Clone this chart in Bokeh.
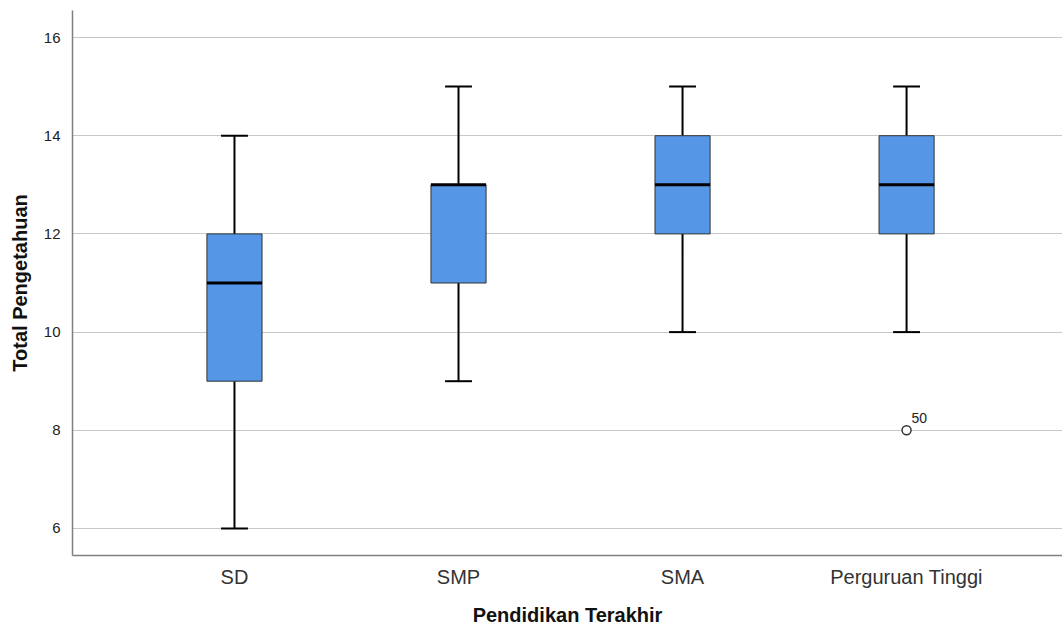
from bokeh.plotting import figure
from bokeh.models import ColumnDataSource, Range1d, FixedTicker
from bokeh.core.properties import value
from bokeh.embed import file_html
from bokeh.resources import INLINE

categories = ["SD", "SMP", "SMA", "Perguruan Tinggi"]
whisker_low = [6, 9, 10, 10]
q1 = [9, 11, 12, 12]
medians = [11, 13, 13, 13]
q3 = [12, 13, 14, 14]
whisker_high = [14, 15, 15, 15]
outlier_cat = ["Perguruan Tinggi"]
outlier_val = [8]
outlier_label = ["50"]
y_ticks = [6, 8, 10, 12, 14, 16]

xpos = [i + 1 for i in range(len(categories))]
box_half = 0.123
cap_half = 0.06

src = ColumnDataSource(dict(
    x=xpos, lo=whisker_low, q1=q1, med=medians, q3=q3, hi=whisker_high,
    xl=[x - box_half for x in xpos], xr=[x + box_half for x in xpos],
    cl=[x - cap_half for x in xpos], cr=[x + cap_half for x in xpos],
))

p = figure(width=1062, height=629, output_backend="svg", toolbar_location=None,
           x_range=Range1d(0.277, 4.696), y_range=Range1d(5.45, 16.55),
           min_border_left=72, min_border_top=10, min_border_right=0, min_border_bottom=74)
p.outline_line_color = None
p.background_fill_color = "white"
p.border_fill_color = "white"

# grid
p.xgrid.grid_line_color = None
p.ygrid.grid_line_color = "#c8c8c8"
p.ygrid.grid_line_width = 1.2
p.ygrid.ticker = FixedTicker(ticks=y_ticks)

# whiskers
p.segment(x0="x", y0="lo", x1="x", y1="q1", source=src, line_color="black", line_width=2)
p.segment(x0="x", y0="q3", x1="x", y1="hi", source=src, line_color="black", line_width=2)
p.segment(x0="cl", y0="lo", x1="cr", y1="lo", source=src, line_color="black", line_width=2)
p.segment(x0="cl", y0="hi", x1="cr", y1="hi", source=src, line_color="black", line_width=2)
# boxes
p.vbar(x="x", width=2 * box_half, bottom="q1", top="q3", source=src,
       fill_color="#5596E6", line_color="#333333", line_width=1)
# medians
p.segment(x0="xl", y0="med", x1="xr", y1="med", source=src, line_color="black", line_width=3)

# outliers
ox = [xpos[categories.index(c)] for c in outlier_cat]
osrc = ColumnDataSource(dict(x=ox, y=outlier_val, t=outlier_label))
p.scatter(x="x", y="y", source=osrc, size=9, marker="circle", fill_color="white",
          line_color="#333333", line_width=1.5)
p.text(x="x", y="y", text="t", source=osrc, x_offset=5, y_offset=-7,
       text_font_size="14px", text_color="#222222", text_baseline="bottom",
       text_font=value("Liberation Sans"))

# y axis
p.yaxis.ticker = FixedTicker(ticks=y_ticks)
p.yaxis.axis_label = "Total Pengetahuan"
p.yaxis.axis_label_text_font = "Liberation Sans"
p.yaxis.axis_label_text_font_style = "bold"
p.yaxis.axis_label_text_font_size = "20px"
p.yaxis.axis_label_text_color = "#111111"
p.yaxis.axis_label_standoff = 10
p.yaxis.major_label_text_font = "Liberation Sans"
p.yaxis.major_label_text_font_size = "15px"
p.yaxis.major_label_text_color = "#222222"
p.yaxis.major_label_standoff = 6
p.yaxis.major_tick_line_color = None
p.yaxis.minor_tick_line_color = None
p.yaxis.axis_line_color = "#808080"
p.yaxis.axis_line_width = 1.5

# x axis
p.xaxis.ticker = FixedTicker(ticks=xpos)
p.xaxis.major_label_overrides = {x: c for x, c in zip(xpos, categories)}
p.xaxis.axis_label = "Pendidikan Terakhir"
p.xaxis.axis_label_text_font = "Liberation Sans"
p.xaxis.axis_label_text_font_style = "bold"
p.xaxis.axis_label_text_font_size = "20px"
p.xaxis.axis_label_text_color = "#111111"
p.xaxis.axis_label_standoff = 13
p.xaxis.major_label_text_font = "Liberation Sans"
p.xaxis.major_label_text_font_size = "20px"
p.xaxis.major_label_text_color = "#333333"
p.xaxis.major_label_standoff = 4
p.xaxis.major_tick_line_color = None
p.xaxis.minor_tick_line_color = None
p.xaxis.axis_line_color = "#808080"
p.xaxis.axis_line_width = 1.5

open("out.html", "w").write(file_html(p, INLINE))
